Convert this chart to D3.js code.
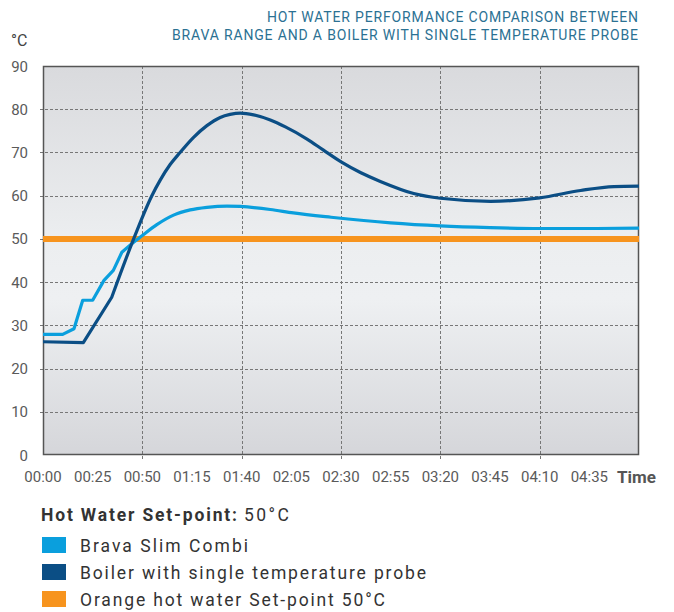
<!DOCTYPE html>
<html><head><meta charset="utf-8">
<script src="https://cdn.jsdelivr.net/npm/d3@7"></script>
<style>body{margin:0;background:#fff;}svg{display:block;font-family:Roboto,"Liberation Sans",sans-serif;}</style>
</head><body><svg id="c" width="674" height="612"></svg>
<script>
const titleLines = ["HOT WATER PERFORMANCE COMPARISON BETWEEN","BRAVA RANGE AND A BOILER WITH SINGLE TEMPERATURE PROBE"];
const xTickMinutes = [0,25,50,75,100,125,150,175,200,225,250,275];
const xTickLabels = ["00:00","00:25","00:50","01:15","01:40","02:05","02:30","02:55","03:20","03:45","04:10","04:35"];
const yTicks = [0,10,20,30,40,50,60,70,80,90];
const bravaT = [0,9.9,15.6,20,25,30.7,35.4,39.7,44.7,50,57.3,65.7,74.1,82.5,92.6,99.3,114.4,126,145,175,200,225,250,275,300];
const bravaV = [27.9,27.9,29.2,35.8,35.8,40.4,42.7,46.9,48.9,50.8,53.3,55.5,56.7,57.3,57.6,57.5,56.8,56.0,55.0,53.7,53.0,52.6,52.4,52.4,52.5];
const boilerT = [0,20.3,34.6,44.7,54.8,59,64,69,75.8,82.5,89.2,94.2,99.3,106,114.4,122,132.9,141,150.5,160,169.8,186.6,200,225.3,250,270.6,287.4,300];
const boilerV = [26.2,26.0,36.5,48.9,60.0,63.6,67.2,70.0,73.5,76.2,78.1,78.8,79.1,78.7,77.5,75.9,73.1,70.6,67.7,65.3,63.3,60.5,59.4,58.7,59.5,61.2,62.1,62.2];
const setpoint = 50;
const legendTitle = ["Hot Water Set-point:","50°C"];
const legendItems = ["Brava Slim Combi","Boiler with single temperature probe","Orange hot water Set-point 50°C"];
const colors = ["#0a9fdd","#0b4e85","#f7941e"];

const svg = d3.select("#c");
const L=43,R=639,T=66,B=455;
const x = d3.scaleLinear().domain([0,300]).range([L,R]);
const y = d3.scaleLinear().domain([0,90]).range([B,T]);

const defs = svg.append("defs");
const g = defs.append("linearGradient").attr("id","bg").attr("x1",0).attr("y1",0).attr("x2",0).attr("y2",1);
g.append("stop").attr("offset","0%").attr("stop-color","#d9dadd");
g.append("stop").attr("offset","45%").attr("stop-color","#eceef0");
g.append("stop").attr("offset","60%").attr("stop-color","#eef0f2");
g.append("stop").attr("offset","100%").attr("stop-color","#d5d6da");
svg.append("rect").attr("x",L).attr("y",T).attr("width",R-L).attr("height",B-T).attr("fill","url(#bg)");

// grid
const grid = svg.append("g").attr("stroke","#777").attr("stroke-width",1).attr("stroke-dasharray","3,2");
[10,20,30,40,50,60,70,80].forEach(v=>grid.append("line").attr("x1",L-3).attr("x2",R).attr("y1",Math.round(y(v))+0.5).attr("y2",Math.round(y(v))+0.5));
[50,100,150,200,250].forEach(v=>grid.append("line").attr("y1",T).attr("y2",B+4).attr("x1",Math.round(x(v))+0.5).attr("x2",Math.round(x(v))+0.5));

// frame
svg.append("rect").attr("x",L+0.5).attr("y",T+0.5).attr("width",R-L-1).attr("height",B-T-1).attr("fill","none").attr("stroke","#555").attr("stroke-width",1.5);

// axes labels
svg.append("g").selectAll("text").data(yTicks).join("text")
  .attr("x",28).attr("y",d=>y(d)+5.5).attr("text-anchor","end").attr("font-size",15).attr("fill","#5a5a5a").text(d=>d);
svg.append("g").selectAll("text").data(xTickMinutes).join("text")
  .attr("x",d=>x(d)).attr("y",482).attr("text-anchor","middle").attr("font-size",15).attr("fill","#5a5a5a").text((d,i)=>xTickLabels[i]);
svg.append("text").attr("x",617).attr("y",483).attr("font-size",17).attr("font-weight","bold").attr("fill","#555").text("Time");
svg.append("text").attr("x",11).attr("y",46).attr("font-size",16).attr("fill","#444").text("°C");

const tw = [371,466];
svg.append("g").selectAll("text").data(titleLines).join("text")
  .attr("x",638).attr("y",(d,i)=>22+i*18).attr("text-anchor","end").attr("font-size",14).attr("fill","#2b7193")
  .attr("textLength",(d,i)=>tw[i]).attr("lengthAdjust","spacing").text(d=>d);

// lines: piecewise-linear start, smooth remainder
svg.append("line").attr("x1",L).attr("x2",R).attr("y1",y(setpoint)).attr("y2",y(setpoint)).attr("stroke",colors[2]).attr("stroke-width",6);
const lin = d3.line().x(d=>x(d[0])).y(d=>y(d[1]));
const smooth = d3.line().x(d=>x(d[0])).y(d=>y(d[1])).curve(d3.curveMonotoneX);
function pathFor(ts, vs, k){
  const pts = ts.map((t,i)=>[t,vs[i]]);
  return lin(pts.slice(0,k+1)) + smooth(pts.slice(k)).replace(/^M/,"L");
}
svg.append("path").attr("d",pathFor(bravaT,bravaV,8)).attr("fill","none").attr("stroke",colors[0]).attr("stroke-width",3.2).attr("stroke-linejoin","round");
svg.append("path").attr("d",pathFor(boilerT,boilerV,2)).attr("fill","none").attr("stroke",colors[1]).attr("stroke-width",3.2).attr("stroke-linejoin","round");

// legend
const lt = svg.append("text").attr("x",41).attr("y",521).attr("font-size",17.5).attr("fill","#333");
lt.append("tspan").attr("font-weight","bold").attr("textLength",196).attr("lengthAdjust","spacing").text(legendTitle[0]);
lt.append("tspan").attr("x",244).attr("textLength",45).attr("lengthAdjust","spacing").text(legendTitle[1]);
const lw = [168,346,305];
const li = svg.append("g").selectAll("g").data(legendItems).join("g").attr("transform",(d,i)=>`translate(42,${537+i*27})`);
li.append("rect").attr("width",24).attr("height",16).attr("fill",(d,i)=>colors[i]);
li.append("text").attr("x",38).attr("y",15).attr("font-size",17.5).attr("fill","#333")
  .attr("textLength",(d,i)=>lw[i]).attr("lengthAdjust","spacing").text(d=>d);
</script></body></html>
